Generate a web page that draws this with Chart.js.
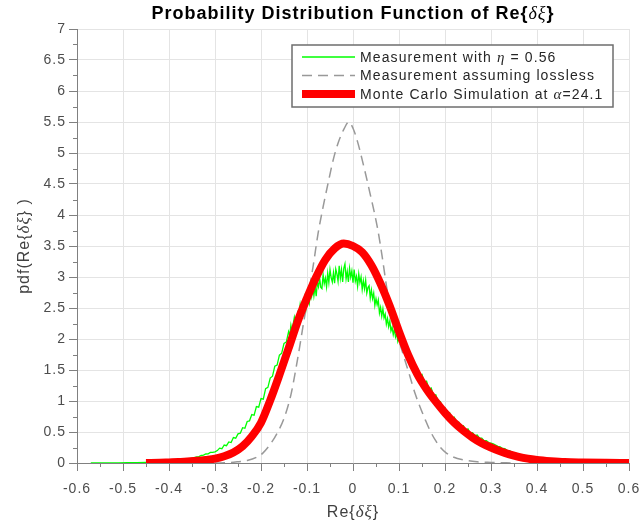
<!DOCTYPE html>
<html>
<head>
<meta charset="utf-8">
<script src="https://cdn.jsdelivr.net/npm/chart.js@4.4.1/dist/chart.umd.min.js"></script>
<style>
  html, body { margin: 0; padding: 0; background: #fff; }
</style>
</head>
<body>
<canvas id="myChart" width="642" height="529"></canvas>
<script>
// measurement with eta = 0.56 (noisy histogram)
const measX = [
  -0.57, -0.55, -0.53, -0.51, -0.49, -0.47, -0.45, -0.43, -0.41, -0.40,
  -0.39, -0.38, -0.37, -0.36, -0.35, -0.345, -0.34, -0.335, -0.33, -0.325,
  -0.32, -0.315, -0.31, -0.305,
  -0.300, -0.295, -0.290, -0.285, -0.280, -0.275, -0.270, -0.265, -0.260, -0.255,
  -0.250, -0.245, -0.240, -0.235, -0.230, -0.225, -0.220, -0.215, -0.210, -0.205,
  -0.200, -0.195, -0.190, -0.185, -0.180, -0.175, -0.170, -0.165, -0.160, -0.155,
  -0.150, -0.145,
  -0.1400, -0.1375, -0.1350, -0.1325, -0.1300, -0.1275, -0.1250, -0.1225, -0.1200, -0.1175,
  -0.1150, -0.1125, -0.1100, -0.1075, -0.1050, -0.1025, -0.1000, -0.0975, -0.0950, -0.0925,
  -0.0900, -0.0875, -0.0850, -0.0825, -0.0800, -0.0775, -0.0750, -0.0725, -0.0700, -0.0675,
  -0.0650, -0.0625, -0.0600, -0.0575, -0.0550, -0.0525, -0.0500, -0.0475, -0.0450, -0.0425,
  -0.0400, -0.0375, -0.0350, -0.0325, -0.0300, -0.0275, -0.0250, -0.0225, -0.0200, -0.0175,
  -0.0150, -0.0125, -0.0100, -0.0075, -0.0050, -0.0025, 0.0000, 0.0025, 0.0050, 0.0075,
  0.0100, 0.0125, 0.0150, 0.0175, 0.0200, 0.0225, 0.0250, 0.0275, 0.0300, 0.0325,
  0.0350, 0.0375, 0.0400, 0.0425, 0.0450, 0.0475, 0.0500, 0.0525, 0.0550, 0.0575,
  0.0600, 0.0625, 0.0650, 0.0675, 0.0700, 0.0725, 0.0750, 0.0775, 0.0800, 0.0825,
  0.0850, 0.0875, 0.0900, 0.0925, 0.0950, 0.0975, 0.1000,
  0.105, 0.110, 0.115, 0.120, 0.125, 0.130, 0.135, 0.140, 0.145,
  0.150, 0.155, 0.160, 0.165, 0.170, 0.175, 0.180, 0.185, 0.190, 0.195,
  0.200, 0.205, 0.210, 0.215, 0.220, 0.225, 0.230, 0.235, 0.240, 0.245,
  0.250, 0.255, 0.260, 0.265, 0.270, 0.275, 0.280, 0.285, 0.290, 0.295,
  0.300, 0.305, 0.31, 0.315, 0.32, 0.325, 0.33, 0.335, 0.34, 0.345,
  0.35, 0.36, 0.37, 0.38, 0.39, 0.40, 0.41, 0.42, 0.43, 0.44,
  0.45, 0.46, 0.47, 0.48, 0.50, 0.52, 0.55, 0.58, 0.60
];
const measY = [
  0.000, 0.001, 0.001, 0.002, 0.004, 0.006, 0.009, 0.013, 0.020, 0.026,
  0.032, 0.040, 0.050, 0.062, 0.078, 0.086, 0.098, 0.104, 0.121, 0.126,
  0.145, 0.148, 0.170, 0.172,
  0.18, 0.20, 0.24, 0.23, 0.29, 0.28, 0.34, 0.33, 0.41, 0.40,
  0.47, 0.48, 0.57, 0.56, 0.67, 0.68, 0.78, 0.77, 0.91, 0.90,
  1.04, 1.03, 1.20, 1.22, 1.37, 1.40, 1.56, 1.58, 1.74, 1.77,
  1.93, 1.95,
  2.12, 2.06, 2.22, 2.11, 2.24, 2.35, 2.25, 2.25, 2.43, 2.39,
  2.55, 2.40, 2.54, 2.47, 2.65, 2.49, 2.69, 2.67, 2.58, 2.80,
  2.69, 2.87, 2.70, 2.85, 2.69, 2.92, 2.84, 2.98, 2.83, 2.81,
  3.04, 2.89, 2.98, 2.84, 3.06, 2.91, 3.12, 2.99, 2.92, 3.07,
  2.90, 3.13, 3.05, 2.93, 3.18, 2.98, 3.12, 2.92, 3.14, 3.21,
  2.97, 3.09, 2.92, 3.14, 3.00, 3.10, 2.91, 3.12, 2.93, 3.01,
  2.85, 3.05, 2.91, 3.00, 2.80, 2.94, 2.81, 2.95, 2.74, 2.83,
  2.86, 2.66, 2.79, 2.65, 2.74, 2.54, 2.65, 2.55, 2.63, 2.42,
  2.51, 2.37, 2.49, 2.34, 2.40, 2.24, 2.33, 2.20, 2.29, 2.13,
  2.19, 2.07, 2.16, 2.03, 2.09, 1.96, 2.02,
  1.88, 1.91, 1.75, 1.78, 1.64, 1.65, 1.51, 1.53, 1.41,
  1.43, 1.30, 1.32, 1.19, 1.21, 1.09, 1.10, 0.99, 0.99, 0.88,
  0.89, 0.79, 0.81, 0.72, 0.74, 0.66, 0.66, 0.59, 0.60, 0.53,
  0.55, 0.48, 0.49, 0.44, 0.45, 0.40, 0.40, 0.36, 0.36, 0.33,
  0.32, 0.31, 0.29, 0.27, 0.26, 0.235, 0.23, 0.205, 0.20, 0.175,
  0.165, 0.145, 0.125, 0.105, 0.085, 0.068, 0.055, 0.045, 0.037, 0.030,
  0.024, 0.019, 0.015, 0.012, 0.008, 0.005, 0.003, 0.001, 0.001
];

// measurement assuming lossless
const losslessX = [
  -0.30, -0.27, -0.25, -0.23, -0.21, -0.196, -0.18, -0.165, -0.15, -0.135,
  -0.122, -0.109, -0.098, -0.087, -0.076, -0.065, -0.054, -0.043, -0.032, -0.02,
  -0.009, 0.0, 0.01, 0.02, 0.037, 0.054, 0.064, 0.074, 0.087, 0.10,
  0.112, 0.124, 0.135, 0.146, 0.157, 0.167, 0.178, 0.189, 0.203, 0.217,
  0.24, 0.27, 0.30, 0.35
];
const losslessY = [
  0.00, 0.005, 0.02, 0.04, 0.09, 0.16, 0.30, 0.48, 0.72, 1.10,
  1.61, 2.19, 2.68, 3.16, 3.70, 4.13, 4.52, 4.89, 5.17, 5.38,
  5.50, 5.40, 5.18, 4.89, 4.35, 3.76, 3.30, 2.80, 2.35, 1.98,
  1.68, 1.39, 1.12, 0.90, 0.70, 0.53, 0.38, 0.26, 0.16, 0.10,
  0.05, 0.02, 0.01, 0.00
];

// Monte Carlo simulation at alpha = 24.1
const mcX = [
  -0.45, -0.42, -0.40, -0.38, -0.36, -0.34, -0.32, -0.30, -0.28, -0.26,
  -0.24, -0.22, -0.20, -0.18, -0.16, -0.14, -0.12, -0.10, -0.08, -0.06,
  -0.04, -0.02, 0.00, 0.02, 0.04, 0.06, 0.08, 0.10, 0.12, 0.14,
  0.16, 0.18, 0.20, 0.22, 0.24, 0.26, 0.28, 0.30, 0.32, 0.34,
  0.36, 0.38, 0.40, 0.43, 0.46, 0.50, 0.55, 0.60
];
const mcY = [
  0.00, 0.005, 0.01, 0.015, 0.025, 0.035, 0.05, 0.07, 0.11, 0.17,
  0.27, 0.43, 0.65, 1.01, 1.42, 1.85, 2.29, 2.66, 3.00, 3.28,
  3.46, 3.54, 3.50, 3.40, 3.19, 2.89, 2.53, 2.12, 1.74, 1.43,
  1.19, 0.99, 0.81, 0.65, 0.52, 0.41, 0.32, 0.25, 0.19, 0.14,
  0.10, 0.07, 0.05, 0.03, 0.015, 0.008, 0.003, 0.0
];

const xTicks = [-0.6, -0.5, -0.4, -0.3, -0.2, -0.1, 0, 0.1, 0.2, 0.3, 0.4, 0.5, 0.6];
const yTicks = [0, 0.5, 1, 1.5, 2, 2.5, 3, 3.5, 4, 4.5, 5, 5.5, 6, 6.5, 7];

const SANS = '"Liberation Sans", Arial, Helvetica, sans-serif';
const SERIF = '"Liberation Serif", "DejaVu Serif", serif';

const legendLabels = [
  [['Measurement with ', 'n'], ['η', 'g'], [' = 0.56', 'n']],
  [['Measurement assuming lossless', 'n']],
  [['Monte Carlo Simulation at ', 'n'], ['α', 'g'], ['=24.1', 'n']]
];

function pts(xs, ys) {
  return xs.map((x, i) => ({ x: x, y: ys[i] }));
}

function fmt(v) {
  const r = Math.round(v * 10) / 10;
  return r === 0 ? '0' : String(r);
}

// draws a run of text pieces with different fonts
function drawRich(ctx, parts, x, y, align) {
  let total = 0;
  parts.forEach(p => { ctx.font = p[1]; total += ctx.measureText(p[0]).width; });
  let cx = align === 'center' ? x - total / 2 : x;
  ctx.textAlign = 'left';
  parts.forEach(p => {
    ctx.font = p[1];
    ctx.fillText(p[0], cx, y);
    cx += ctx.measureText(p[0]).width;
  });
}

const spacingPlugin = {
  id: 'spacing',
  beforeDraw(chart) {
    chart.ctx.letterSpacing = '1px';
  }
};

const minorTicks = {
  id: 'minorTicks',
  afterDraw(chart) {
    const ctx = chart.ctx;
    const xs = chart.scales.x, ys = chart.scales.y;
    const a = chart.chartArea;
    ctx.save();
    ctx.strokeStyle = '#808080';
    ctx.lineWidth = 1;
    ctx.beginPath();
    for (let i = -11; i <= 11; i += 2) {
      const px = Math.round(xs.getPixelForValue(i * 0.05)) + 0.5;
      ctx.moveTo(px, a.bottom);
      ctx.lineTo(px, a.bottom + 4);
    }
    for (let j = 1; j < 28; j += 2) {
      const py = Math.round(ys.getPixelForValue(j * 0.25)) + 0.5;
      ctx.moveTo(a.left, py);
      ctx.lineTo(a.left - 4, py);
    }
    ctx.stroke();
    ctx.restore();
  }
};

const textPlugin = {
  id: 'texts',
  afterDraw(chart) {
    const ctx = chart.ctx;
    const a = chart.chartArea;
    const cx = (a.left + a.right) / 2;
    ctx.save();
    ctx.textBaseline = 'middle';

    // title
    ctx.fillStyle = '#000';
    ctx.letterSpacing = '1px';
    drawRich(ctx, [
      ['Probability Distribution Function of Re{', 'bold 18px ' + SANS],
      ['δξ', 'italic 18px ' + SERIF],
      ['}', 'bold 18px ' + SANS]
    ], cx, 14, 'center');

    // axis titles
    ctx.fillStyle = '#404040';
    ctx.letterSpacing = '1px';
    drawRich(ctx, [
      ['Re{', '16px ' + SANS], ['δξ', 'italic 17px ' + SERIF], ['}', '16px ' + SANS]
    ], cx, 513, 'center');
    ctx.save();
    ctx.translate(25, (a.top + a.bottom) / 2);
    ctx.rotate(-Math.PI / 2);
    drawRich(ctx, [
      ['pdf(Re{', '16px ' + SANS], ['δξ', 'italic 17px ' + SERIF], ['} )', '16px ' + SANS]
    ], 0, 0, 'center');
    ctx.restore();

    // legend box
    const bx = a.right - 337, by = a.top + 16, bw = 321, bh = 62;
    ctx.fillStyle = '#fff';
    ctx.fillRect(bx, by, bw, bh);
    ctx.strokeStyle = '#6e6e6e';
    ctx.lineWidth = 1.5;
    ctx.strokeRect(bx, by, bw, bh);
    chart.data.datasets.forEach((ds, i) => {
      const ry = by + 12 + i * 18.5;
      ctx.save();
      ctx.strokeStyle = ds.borderColor;
      ctx.lineWidth = ds.borderWidth;
      ctx.setLineDash(ds.borderDash || []);
      ctx.beginPath();
      ctx.moveTo(bx + 10, ry);
      ctx.lineTo(bx + 63, ry);
      ctx.stroke();
      ctx.restore();
      ctx.fillStyle = '#262626';
      ctx.letterSpacing = '1.1px';
      const parts = legendLabels[i].map(p => [p[0], p[1] === 'g' ? 'italic 15px ' + SERIF : '14px ' + SANS]);
      drawRich(ctx, parts, bx + 68, ry + 1, 'left');
    });
    ctx.restore();
  }
};

const ctx = document.getElementById('myChart').getContext('2d');
const myChart = new Chart(ctx, {
  type: 'line',
  data: {
    datasets: [
      {
        label: 'Measurement with η = 0.56',
        data: pts(measX, measY),
        borderColor: '#00ff00',
        borderWidth: 1.3,
        pointRadius: 0,
        tension: 0,
        order: 2
      },
      {
        label: 'Measurement assuming lossless',
        data: pts(losslessX, losslessY),
        borderColor: '#999999',
        borderWidth: 1.5,
        borderDash: [10, 6],
        pointRadius: 0,
        cubicInterpolationMode: 'monotone',
        order: 1
      },
      {
        label: 'Monte Carlo Simulation at α=24.1',
        data: pts(mcX, mcY),
        borderColor: '#ff0000',
        borderWidth: 8,
        pointRadius: 0,
        cubicInterpolationMode: 'monotone',
        order: 0
      }
    ]
  },
  options: {
    responsive: false,
    animation: false,
    events: [],
    layout: { padding: { top: 29, right: 13, left: 0, bottom: 0 } },
    plugins: {
      legend: { display: false },
      title: { display: false },
      tooltip: { enabled: false }
    },
    scales: {
      x: {
        type: 'linear',
        min: -0.6,
        max: 0.6,
        afterBuildTicks: scale => { scale.ticks = xTicks.map(v => ({ value: v })); },
        afterFit: scale => { scale.height = 66; scale.paddingLeft = 0; scale.paddingRight = 0; },
        grid: { color: '#e4e4e4', tickColor: '#808080', tickLength: 8 },
        border: { color: '#808080' },
        ticks: {
          callback: v => fmt(v),
          maxRotation: 0,
          autoSkip: false,
          padding: 10,
          color: '#4d4d4d',
          font: { family: SANS, size: 14 }
        }
      },
      y: {
        type: 'linear',
        min: 0,
        max: 7,
        afterBuildTicks: scale => { scale.ticks = yTicks.map(v => ({ value: v })); },
        afterFit: scale => { scale.width = 77; scale.paddingTop = 0; scale.paddingBottom = 0; },
        grid: { color: '#e4e4e4', tickColor: '#808080', tickLength: 8 },
        border: { color: '#808080' },
        ticks: {
          callback: v => String(v),
          autoSkip: false,
          padding: 3,
          color: '#4d4d4d',
          font: { family: SANS, size: 14 }
        }
      }
    }
  },
  plugins: [spacingPlugin, minorTicks, textPlugin]
});
</script>
</body>
</html>
